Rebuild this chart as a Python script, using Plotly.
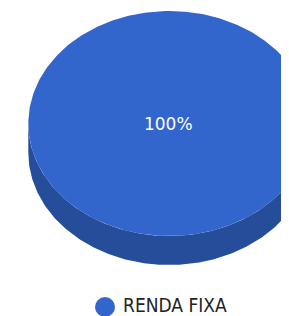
import numpy as np
import plotly.graph_objects as go

labels = ["RENDA FIXA"]
values = [100]
colors = ["#3366cc"]
side_colors = ["#264d99"]

W, H = 289, 316
OFF = 8  # page body margin compensation
cx, cy, rx, ry, depth = 169.3, 123.5, 141, 112.5, 29

total = sum(values)
fig = go.Figure()

def pt(t):
    return cx + rx * np.sin(t), cy - ry * np.cos(t)

start = 0.0
slices = []
for v in values:
    a0 = start
    a1 = start + 2 * np.pi * v / total
    slices.append((a0, a1))
    start = a1

# sides (visible front half: angles 90..270 deg)
for (a0, a1), sc in zip(slices, side_colors):
    lo = max(a0, np.pi / 2)
    hi = min(a1, 3 * np.pi / 2)
    if hi <= lo:
        continue
    t = np.linspace(lo, hi, 200)
    xs, ys = pt(t)
    x = np.concatenate([xs, xs[::-1]])
    y = np.concatenate([ys, ys[::-1] + depth])
    fig.add_trace(go.Scatter(x=x, y=y, fill="toself", mode="lines",
                             line=dict(width=0, color=sc), fillcolor=sc,
                             hoverinfo="skip", showlegend=False))

# tops
for (a0, a1), c in zip(slices, colors):
    t = np.linspace(a0, a1, 400)
    xs, ys = pt(t)
    if a1 - a0 < 2 * np.pi - 1e-9:
        xs = np.concatenate([[cx], xs, [cx]])
        ys = np.concatenate([[cy], ys, [cy]])
    fig.add_trace(go.Scatter(x=xs, y=ys, fill="toself", mode="lines",
                             line=dict(width=0, color=c), fillcolor=c,
                             hoverinfo="skip", showlegend=False))

# labels
for (a0, a1), v in zip(slices, values):
    frac = v / total
    if frac >= 0.999:
        lx, ly = cx, cy
    else:
        m = (a0 + a1) / 2
        lx, ly = cx + 0.6 * rx * np.sin(m), cy - 0.6 * ry * np.cos(m)
    fig.add_trace(go.Scatter(x=[lx - 1], y=[ly + 2], mode="text",
                             text=[f"{frac*100:.0f}%"],
                             textfont=dict(family="DejaVu Sans", size=17, color="white"),
                             hoverinfo="skip", showlegend=False))

# legend
for i, (lab, c) in enumerate(zip(labels, colors)):
    fig.add_trace(go.Scatter(x=[105], y=[307], mode="markers",
                             marker=dict(size=20, color=c),
                             hoverinfo="skip", showlegend=False))
    fig.add_annotation(x=122, y=305, xref="x", yref="y", text=lab,
                       showarrow=False, xanchor="left", yanchor="middle",
                       borderpad=0,
                       font=dict(family="DejaVu Sans Condensed, DejaVu Sans", size=19, color="#222222"))

fig.update_layout(
    width=W, height=H, margin=dict(l=0, r=0, t=0, b=0),
    paper_bgcolor="white", plot_bgcolor="white",
    xaxis=dict(range=[OFF, W + OFF], visible=False, fixedrange=True),
    yaxis=dict(range=[H + OFF, OFF], visible=False, fixedrange=True),
    hovermode=False, showlegend=False,
)
fig.write_html("out.html")
